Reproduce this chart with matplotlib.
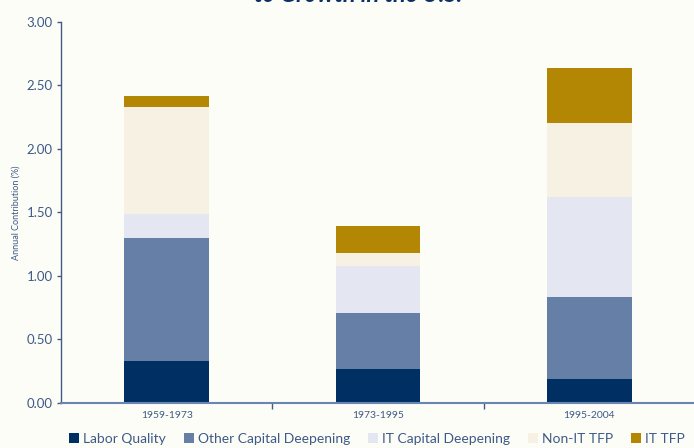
import matplotlib
matplotlib.use("Agg")
import matplotlib.pyplot as plt
import numpy as np

periods = ["1959-1973", "1973-1995", "1995-2004"]
series_names = ["Labor Quality", "Other Capital Deepening", "IT Capital Deepening",
                "Non-IT TFP", "IT TFP"]
labor_quality = [0.33, 0.265, 0.185]
other_capital = [0.97, 0.44, 0.645]
it_capital = [0.19, 0.37, 0.79]
non_it_tfp = [0.84, 0.105, 0.58]
it_tfp = [0.085, 0.21, 0.44]
y_ticks = [0.0, 0.5, 1.0, 1.5, 2.0, 2.5, 3.0]

colors = ["#003063", "#667FA6", "#E4E7F1", "#F7F1E3", "#B38703"]
bg = "#FDFDF8"
txt = "#3E5A87"

plt.rcParams['font.family'] = ['Lato', 'DejaVu Sans']

fig = plt.figure(figsize=(6.94, 4.48), dpi=100, facecolor=bg)
ax = fig.add_axes([61/694, 45.5/448, 634/694, 380.5/448], facecolor=bg)

x = np.arange(len(periods))
bottom = np.zeros(len(periods))
for name, vals, c in zip(series_names,
                         [labor_quality, other_capital, it_capital, non_it_tfp, it_tfp],
                         colors):
    ax.bar(x, vals, width=0.4, bottom=bottom, color=c, label=name, linewidth=0)
    bottom += np.array(vals)

ax.set_xlim(-0.5, 2.5)
ax.set_ylim(0, 3.0)
ax.set_yticks(y_ticks)
ax.set_yticklabels([f"{v:.2f}" for v in y_ticks])
ax.set_xticks([0.5, 1.5])
ax.set_xticklabels([])
ax.set_xticks(x, minor=True)
ax.set_xticklabels(periods, minor=True)
ax.tick_params(axis='x', which='major', direction='out', length=4, width=1, color=txt)
ax.tick_params(axis='x', which='minor', length=0, labelsize=7.5, labelcolor=txt, pad=6)
ax.tick_params(axis='y', direction='out', length=3, width=1, color=txt,
               labelsize=9.5, labelcolor=txt, pad=3)
for s in ['top', 'right']:
    ax.spines[s].set_visible(False)
ax.spines['left'].set_color(txt)
ax.spines['bottom'].set_color("#6A86B0")
ax.spines['left'].set_linewidth(1)
ax.spines['bottom'].set_linewidth(1.5)
ax.set_ylabel("Annual Contribution (%)", fontsize=6.5, color=txt, labelpad=4)

fig.text(358/694, 1.0 - 1.5/448, "to Growth in the U.S.", ha='center', va='baseline',
         fontsize=17, fontweight='bold', fontstyle='italic', color="#0B2F66")

leg = fig.legend(loc='center', bbox_to_anchor=(377/694, 9/448), ncol=5, frameon=False,
                 fontsize=10, handlelength=0.75, handleheight=0.75, handletextpad=0.3,
                 columnspacing=1.25, labelcolor=txt)

fig.savefig("out.png", dpi=100, facecolor=bg)
